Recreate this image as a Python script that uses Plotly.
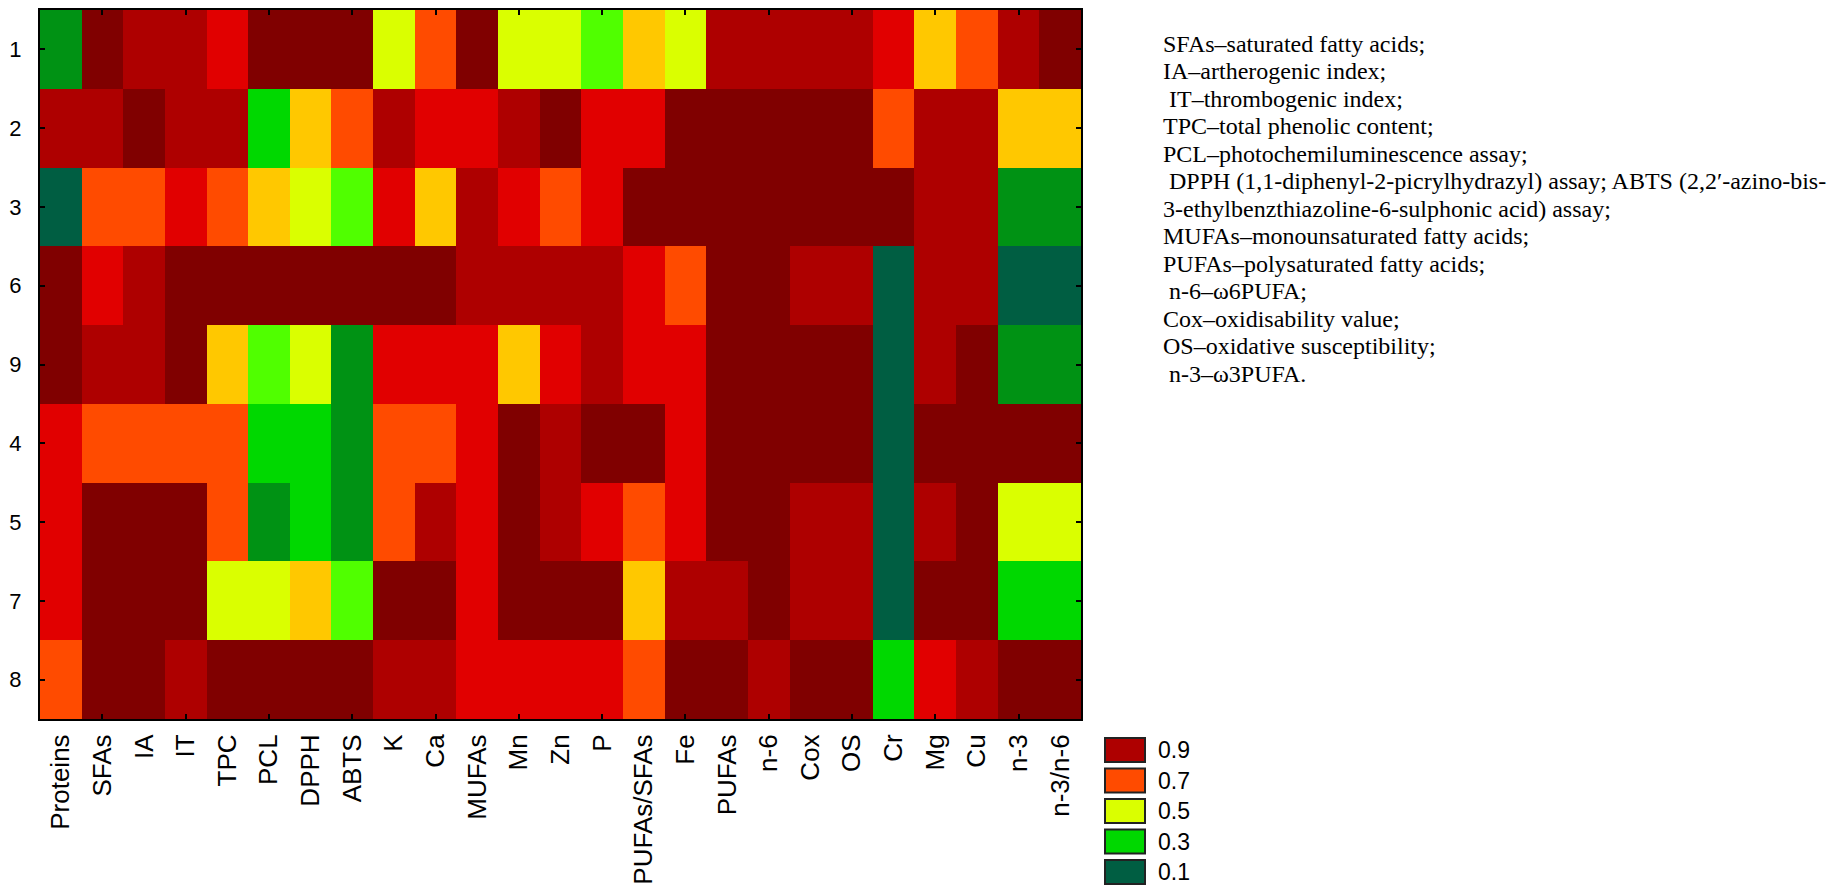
import plotly.graph_objects as go

# ---------------- data ----------------
columns = ["Proteins", "SFAs", "IA", "IT", "TPC", "PCL", "DPPH", "ABTS", "K", "Ca",
           "MUFAs", "Mn", "Zn", "P", "PUFAs/SFAs", "Fe", "PUFAs", "n-6", "Cox", "OS",
           "Cr", "Mg", "Cu", "n-3", "n-3/n-6"]
row_labels = ["1", "2", "3", "6", "9", "4", "5", "7", "8"]

row_1 = [0.2, 1.0, 0.9, 0.9, 0.8, 1.0, 1.0, 1.0, 0.5, 0.7, 1.0, 0.5, 0.5, 0.4, 0.6, 0.5, 0.9, 0.9, 0.9, 0.9, 0.8, 0.6, 0.7, 0.9, 1.0]
row_2 = [0.9, 0.9, 1.0, 0.9, 0.9, 0.3, 0.6, 0.7, 0.9, 0.8, 0.8, 0.9, 1.0, 0.8, 0.8, 1.0, 1.0, 1.0, 1.0, 1.0, 0.7, 0.9, 0.9, 0.6, 0.6]
row_3 = [0.1, 0.7, 0.7, 0.8, 0.7, 0.6, 0.5, 0.4, 0.8, 0.6, 0.9, 0.8, 0.7, 0.8, 1.0, 1.0, 1.0, 1.0, 1.0, 1.0, 1.0, 0.9, 0.9, 0.2, 0.2]
row_6 = [1.0, 0.8, 0.9, 1.0, 1.0, 1.0, 1.0, 1.0, 1.0, 1.0, 0.9, 0.9, 0.9, 0.9, 0.8, 0.7, 1.0, 1.0, 0.9, 0.9, 0.1, 0.9, 0.9, 0.1, 0.1]
row_9 = [1.0, 0.9, 0.9, 1.0, 0.6, 0.4, 0.5, 0.2, 0.8, 0.8, 0.8, 0.6, 0.8, 0.9, 0.8, 0.8, 1.0, 1.0, 1.0, 1.0, 0.1, 0.9, 1.0, 0.2, 0.2]
row_4 = [0.8, 0.7, 0.7, 0.7, 0.7, 0.3, 0.3, 0.2, 0.7, 0.7, 0.8, 1.0, 0.9, 1.0, 1.0, 0.8, 1.0, 1.0, 1.0, 1.0, 0.1, 1.0, 1.0, 1.0, 1.0]
row_5 = [0.8, 1.0, 1.0, 1.0, 0.7, 0.2, 0.3, 0.2, 0.7, 0.9, 0.8, 1.0, 0.9, 0.8, 0.7, 0.8, 1.0, 1.0, 0.9, 0.9, 0.1, 0.9, 1.0, 0.5, 0.5]
row_7 = [0.8, 1.0, 1.0, 1.0, 0.5, 0.5, 0.6, 0.4, 1.0, 1.0, 0.8, 1.0, 1.0, 1.0, 0.6, 0.9, 0.9, 1.0, 0.9, 0.9, 0.1, 1.0, 1.0, 0.3, 0.3]
row_8 = [0.7, 1.0, 1.0, 0.9, 1.0, 1.0, 1.0, 1.0, 0.9, 0.9, 0.8, 0.8, 0.8, 0.8, 0.7, 1.0, 1.0, 0.9, 1.0, 1.0, 0.3, 0.8, 0.9, 1.0, 1.0]

level_colors = ["#005E42", "#009214", "#00D800", "#50FF00", "#DAFF00",
                "#FFC800", "#FF4B00", "#E10000", "#AE0000", "#800000"]  # 0.1 .. 1.0

legend_labels = ["0.9", "0.7", "0.5", "0.3", "0.1"]
legend_colors = ["#AE0000", "#FF4B00", "#DAFF00", "#00D800", "#005E42"]

notes = [
    "SFAs\u2013saturated fatty acids;",
    "IA\u2013artherogenic index;",
    "\u00a0IT\u2013thrombogenic index;",
    "TPC\u2013total phenolic content;",
    "PCL\u2013photochemiluminescence assay;",
    "\u00a0DPPH (1,1-diphenyl-2-picrylhydrazyl) assay; ABTS (2,2\u2032-azino-bis-",
    "3-ethylbenzthiazoline-6-sulphonic acid) assay;",
    "MUFAs\u2013monounsaturated fatty acids;",
    "PUFAs\u2013polysaturated fatty acids;",
    "\u00a0n-6\u2013\u03c96PUFA;",
    "Cox\u2013oxidisability value;",
    "OS\u2013oxidative susceptibility;",
    "\u00a0n-3\u2013\u03c93PUFA.",
]

# ---------------- figure ----------------
W, H = 1829, 886
L, R, T, B = 40, 1081, 10, 719
pw, ph = R - L, B - T

def px_x(x):
    return (x - L) / pw

def px_y(y):
    return (B - y) / ph

z = [row_1, row_2, row_3, row_6, row_9, row_4, row_5, row_7, row_8]

cs = []
n = len(level_colors)
for i, c in enumerate(level_colors):
    cs.append([i / n, c])
    cs.append([(i + 1) / n, c])

fig = go.Figure()
fig.add_trace(go.Heatmap(
    z=z, x=columns, y=row_labels,
    colorscale=cs, zmin=0.05, zmax=1.05, showscale=False,
    hoverongaps=False,
))
# helper invisible trace for top / bottom tick marks on every other column
fig.add_trace(go.Scatter(x=columns, y=[row_labels[0]] * len(columns), xaxis="x2",
                         mode="markers", marker=dict(opacity=0), showlegend=False,
                         hoverinfo="skip"))

tick_font = dict(family="Liberation Sans, Arial, sans-serif", size=26, color="black")

fig.update_layout(
    width=W, height=H,
    margin=dict(l=L, r=W - R, t=T, b=H - B, pad=0, autoexpand=False),
    paper_bgcolor="white", plot_bgcolor="white",
    showlegend=False,
    xaxis=dict(
        type="category", categoryarray=columns, range=[-0.5, len(columns) - 0.5],
        tickangle=-90, tickfont=tick_font, ticks="", showgrid=False, zeroline=False,
        showline=True, linecolor="black", linewidth=2, mirror=True,
        ticklabelstandoff=3, automargin=False,
    ),
    xaxis2=dict(
        type="category", categoryarray=columns, range=[-0.5, len(columns) - 0.5],
        overlaying="x", side="bottom", showticklabels=False, showgrid=False,
        tickvals=columns[1::2], ticks="inside", ticklen=5, tickwidth=2, tickcolor="black",
        mirror="ticks", showline=False, zeroline=False, automargin=False,
    ),
    yaxis=dict(
        type="category", categoryarray=row_labels, autorange="reversed",
        tickfont=dict(family="Liberation Sans, Arial, sans-serif", size=22, color="black"),
        ticks="inside", ticklen=5, tickwidth=2, tickcolor="black",
        showline=True, linecolor="black", linewidth=2, mirror="ticks",
        showgrid=False, zeroline=False, ticklabelstandoff=12, automargin=False,
    ),
)

# legend boxes
shapes = []
annotations = []
for i, (lab, col) in enumerate(zip(legend_labels, legend_colors)):
    y0 = 738 + 30.5 * i
    y1 = y0 + 24
    shapes.append(dict(type="rect", xref="paper", yref="paper",
                       x0=px_x(1105), x1=px_x(1145), y0=px_y(y1), y1=px_y(y0),
                       fillcolor=col, line=dict(color="#222222", width=2)))
    annotations.append(dict(xref="paper", yref="paper", x=px_x(1156), y=px_y((y0 + y1) / 2),
                            text=lab, showarrow=False, xanchor="left", yanchor="middle",
                            font=dict(family="Liberation Sans, Arial, sans-serif", size=23,
                                      color="black")))

# notes text
for i, line in enumerate(notes):
    yc = 43.5 + 27.5 * i
    annotations.append(dict(xref="paper", yref="paper", x=px_x(1161), y=px_y(yc),
                            text=line, showarrow=False, xanchor="left", yanchor="middle",
                            font=dict(family="Liberation Serif, Times New Roman, serif",
                                      size=24, color="black")))

fig.update_layout(shapes=shapes, annotations=annotations)

fig.write_html("out.html")
